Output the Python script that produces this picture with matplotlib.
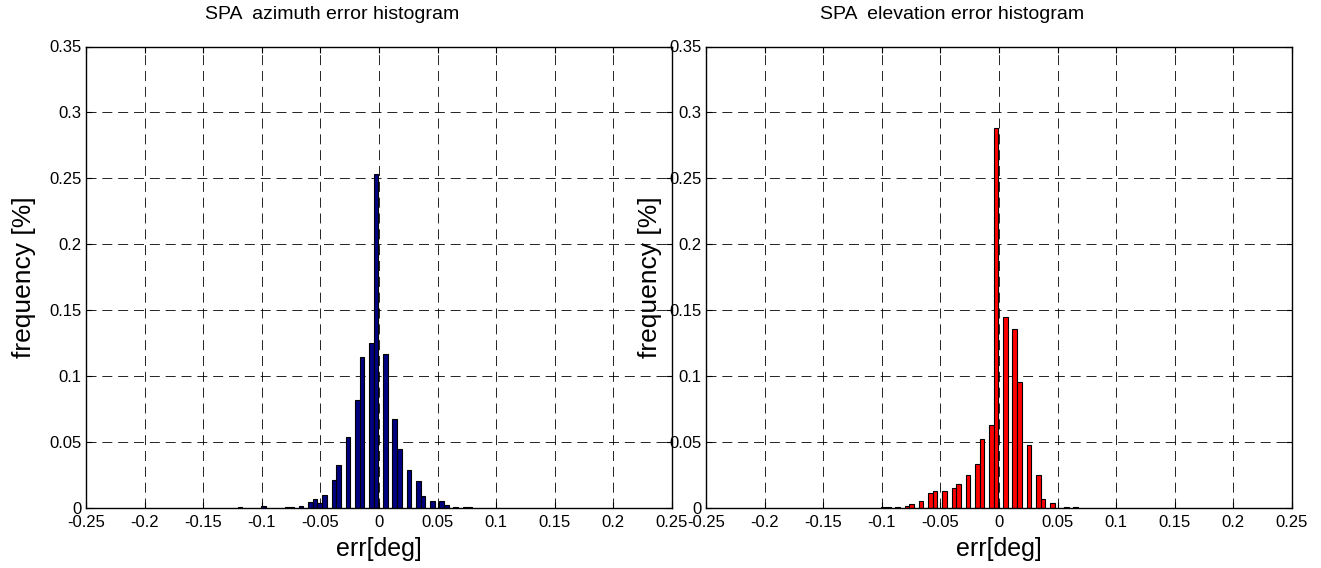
import matplotlib
matplotlib.use("Agg")
import matplotlib.pyplot as plt

plt.rcParams['font.family'] = ['Liberation Sans', 'DejaVu Sans']

# ---- data (bin centres in deg, relative frequency) ----
az_err = [-0.1185, -0.0985, -0.0785, -0.0745, -0.0665, -0.0585, -0.0545, -0.0505,
          -0.0465, -0.0385, -0.0345, -0.0265, -0.0185, -0.0145, -0.0065, -0.0025,
          0.0055, 0.0135, 0.0175, 0.0255, 0.0335, 0.0375, 0.0455, 0.0535, 0.0575,
          0.0655, 0.0735, 0.0775]
az_freq = [0.001, 0.0012, 0.0005, 0.0005, 0.0017, 0.0048, 0.0068, 0.004,
           0.0099, 0.0212, 0.0326, 0.0541, 0.0819, 0.1148, 0.1249, 0.2533,
           0.1165, 0.0675, 0.0447, 0.0288, 0.0205, 0.0093, 0.005, 0.005, 0.002,
           0.0007, 0.001, 0.001]

el_err = [-0.0985, -0.0945, -0.0865, -0.0785, -0.0745, -0.0665, -0.0585, -0.0545,
          -0.0465, -0.0385, -0.0345, -0.0265, -0.0185, -0.0145, -0.0065, -0.0025,
          0.0055, 0.0135, 0.0175, 0.0255, 0.0335, 0.0375, 0.0455, 0.0575, 0.0655]
el_freq = [0.0008, 0.0006, 0.0005, 0.0017, 0.0028, 0.0055, 0.0111, 0.0129,
           0.0129, 0.0152, 0.018, 0.0253, 0.0334, 0.0521, 0.0629, 0.2884,
           0.1451, 0.136, 0.0958, 0.0478, 0.0253, 0.0068, 0.0038, 0.0005, 0.0005]

bin_width = 0.004
x_ticks = [-0.25, -0.2, -0.15, -0.1, -0.05, 0, 0.05, 0.1, 0.15, 0.2, 0.25]
x_tick_labels = ['-0.25', '-0.2', '-0.15', '-0.1', '-0.05', '0', '0.05', '0.1', '0.15', '0.2', '0.25']
y_ticks = [0, 0.05, 0.1, 0.15, 0.2, 0.25, 0.3, 0.35]
y_tick_labels = ['0', '0.05', '0.1', '0.15', '0.2', '0.25', '0.3', '0.35']

titles = ['SPA  azimuth error histogram', 'SPA  elevation error histogram']
colors = ['#000080', '#ff0000']

fig = plt.figure(figsize=(13.21, 5.68), dpi=100)
ax1 = fig.add_axes([86 / 1321, 60 / 568, 586 / 1321, 461.5 / 568])
ax2 = fig.add_axes([706 / 1321, 60 / 568, 586 / 1321, 461.5 / 568])

for ax, xs, ys, title, col, ylx in [(ax1, az_err, az_freq, titles[0], colors[0], -0.106),
                                    (ax2, el_err, el_freq, titles[1], colors[1], -0.095)]:
    ax.set_axisbelow(True)
    ax.bar(xs, ys, width=bin_width, color=col, edgecolor='black', linewidth=0.8)
    ax.set_xlim(-0.25, 0.25)
    ax.set_ylim(0, 0.35)
    ax.set_xticks(x_ticks)
    ax.set_xticklabels(x_tick_labels)
    ax.set_yticks(y_ticks)
    ax.set_yticklabels(y_tick_labels)
    ax.tick_params(direction='in', length=4, width=0.8, top=True, right=True,
                   labelsize=12, colors='black')
    ax.tick_params(axis='x', pad=5)
    ax.tick_params(axis='y', pad=3)
    ax.grid(True, color='black', linestyle=(0, (12, 7)), linewidth=0.6)
    for sp in ax.spines.values():
        sp.set_linewidth(1.0)
        sp.set_color('black')
    ax.set_xlabel('err[deg]', fontsize=18, labelpad=5)
    ax.set_ylabel('frequency [%]', fontsize=19, va='center')
    ax.yaxis.set_label_coords(ylx, 0.5)
    ax.set_title(title, fontsize=14, pad=20, x=0.42)

fig.savefig('out.png', dpi=100)
